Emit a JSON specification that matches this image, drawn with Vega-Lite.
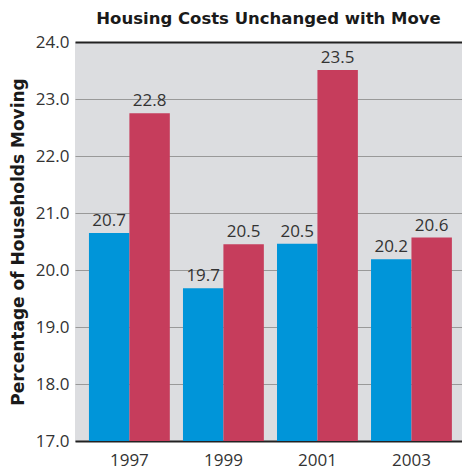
{
  "$schema": "https://vega.github.io/schema/vega-lite/v6.json",
  "width": 387,
  "height": 399,
  "autosize": {"type": "none"},
  "padding": {"left": 75, "top": 42, "right": 0, "bottom": 32},
  "title": {
    "text": "Housing Costs Unchanged with Move",
    "font": "DejaVu Sans",
    "fontSize": 16.5,
    "fontWeight": "bold",
    "color": "#1a1a1a",
    "anchor": "middle",
    "offset": 6
  },
  "config": {
    "view": {"fill": "#dcdde0", "stroke": null},
    "axis": {
      "labelFont": "Open Sans",
      "labelFontSize": 17,
      "labelColor": "#333333",
      "titleFont": "DejaVu Sans",
      "titleFontSize": 17,
      "titleFontWeight": "bold",
      "titleColor": "#1a1a1a"
    }
  },
  "data": {
    "values": [
      {"year": "1997", "series": "Group A", "value": 20.65, "label": "20.7"},
      {"year": "1997", "series": "Group B", "value": 22.75, "label": "22.8"},
      {"year": "1999", "series": "Group A", "value": 19.68, "label": "19.7"},
      {"year": "1999", "series": "Group B", "value": 20.45, "label": "20.5"},
      {"year": "2001", "series": "Group A", "value": 20.46, "label": "20.5"},
      {"year": "2001", "series": "Group B", "value": 23.51, "label": "23.5"},
      {"year": "2003", "series": "Group A", "value": 20.19, "label": "20.2"},
      {"year": "2003", "series": "Group B", "value": 20.57, "label": "20.6"}
    ]
  },
  "encoding": {
    "x": {
      "field": "year",
      "type": "nominal",
      "scale": {"paddingInner": 0.14, "paddingOuter": 0.128, "align": 0.58},
      "axis": {
        "title": null,
        "labelAngle": 0,
        "ticks": false,
        "labelPadding": 11,
        "domainColor": "#222222",
        "domainWidth": 2,
        "grid": false
      }
    },
    "xOffset": {"field": "series", "type": "nominal", "scale": {"paddingInner": 0, "paddingOuter": 0}},
    "y": {
      "field": "value",
      "type": "quantitative",
      "scale": {"domain": [17, 24], "nice": false, "zero": false},
      "axis": {
        "title": "Percentage of Households Moving",
        "values": [17, 18, 19, 20, 21, 22, 23, 24],
        "format": ".1f",
        "ticks": false,
        "domain": false,
        "labelPadding": 6,
        "titlePadding": 8,
        "gridColor": {"condition": {"test": "datum.value >= 24", "value": "#222222"}, "value": "#999999"},
        "gridWidth": {"condition": {"test": "datum.value >= 24", "value": 2}, "value": 1},
        "gridOpacity": 1
      }
    }
  },
  "layer": [
    {
      "mark": {"type": "bar", "clip": true},
      "encoding": {
        "color": {
          "field": "series",
          "type": "nominal",
          "scale": {"range": ["#0095d9", "#c63d5c"]},
          "legend": null
        }
      }
    },
    {
      "mark": {"type": "text", "baseline": "bottom", "dy": -3, "font": "Open Sans", "fontSize": 17, "color": "#333333"},
      "encoding": {"text": {"field": "label"}}
    }
  ]
}
